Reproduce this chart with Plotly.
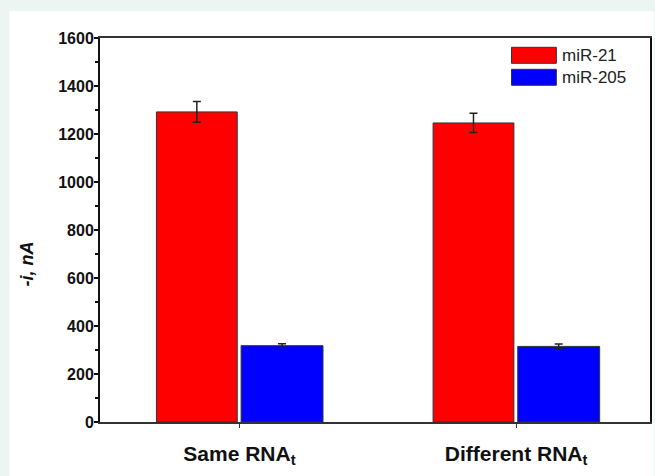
import plotly.graph_objects as go

categories = ["Same RNA<sub>t</sub>", "Different RNA<sub>t</sub>"]
series_names = ["miR-21", "miR-205"]
mir21_values = [1292, 1246]
mir21_errors = [43, 40]
mir205_values = [318, 315]
mir205_errors = [8, 10]
y_ticks = [0, 200, 400, 600, 800, 1000, 1200, 1400, 1600]

colors = ["#ff0000", "#0000ff"]
xpos = [0, 1]

fig = go.Figure()
fig.add_trace(go.Bar(
    x=xpos, y=mir21_values, name=series_names[0],
    marker=dict(color=colors[0], line=dict(color="#333333", width=1)),
    width=0.292, offset=-0.300,
    error_y=dict(type="data", array=mir21_errors, color="#222222", thickness=1.5, width=4),
    showlegend=False,
))
fig.add_trace(go.Bar(
    x=xpos, y=mir205_values, name=series_names[1],
    marker=dict(color=colors[1], line=dict(color="#333333", width=1)),
    width=0.296, offset=0.006,
    error_y=dict(type="data", array=mir205_errors, color="#222222", thickness=1.5, width=4),
    showlegend=False,
))

# plot area in pixels
L, R, T, B = 100, 652, 37.7, 421.7
W, H = 655, 476
pw, ph = R - L, B - T

def px_x(p):
    return (p - L) / pw

def px_y(p):
    return (B - p) / ph

FONT = "Liberation Sans, Arial, sans-serif"

shapes = [
    dict(type="rect", xref="paper", yref="paper", x0=px_x(9), x1=px_x(656),
         y0=px_y(477), y1=px_y(11), fillcolor="white", line=dict(width=0), layer="below"),
]
annotations = [
    dict(xref="paper", yref="paper", x=px_x(27), y=px_y(264), text="<b><i>-i, nA</i></b>",
         textangle=-90, showarrow=False, xanchor="center", yanchor="middle",
         font=dict(family=FONT, size=18, color="#111111")),
]
# custom legend
for i, (nm, c) in enumerate(zip(series_names, colors)):
    y0 = 47 + i * 22
    shapes.append(dict(type="rect", xref="paper", yref="paper",
                       x0=px_x(513), x1=px_x(558), y0=px_y(y0 + 16), y1=px_y(y0),
                       fillcolor=c, line=dict(color="#333333", width=1)))
    annotations.append(dict(xref="paper", yref="paper", x=px_x(562), y=px_y(y0 + 8),
                            text=nm, showarrow=False, xanchor="left", yanchor="middle",
                            font=dict(family=FONT, size=17, color="#222222")))

fig.update_layout(
    width=W, height=H,
    margin=dict(l=L, r=W - R, t=T, b=H - B, pad=0),
    paper_bgcolor="#edf5f2",
    plot_bgcolor="white",
    barmode="overlay",
    shapes=shapes,
    annotations=annotations,
    font=dict(family=FONT, color="#111111"),
    xaxis=dict(
        tickmode="array", tickvals=xpos, ticktext=[f"<b>{c}</b>" for c in categories],
        range=[-0.504, 1.484], showgrid=False, zeroline=False,
        showline=True, linecolor="#333333", linewidth=1.5, mirror=True,
        ticks="outside", ticklen=4, tickwidth=1, tickcolor="#333333",
        tickfont=dict(size=21, color="#111111"), ticklabelstandoff=8,
    ),
    yaxis=dict(
        range=[0, 1600], tickmode="array", tickvals=y_ticks,
        ticktext=[f"<b>{v}</b>" for v in y_ticks],
        showgrid=False, zeroline=False,
        showline=True, linecolor="#111111", linewidth=2, mirror=True,
        ticks="outside", ticklen=4, tickwidth=1.5, tickcolor="#111111",
        minor=dict(dtick=100, ticks="outside", ticklen=3, tickcolor="#111111"),
        tickfont=dict(size=16, color="#111111"), ticklabelstandoff=-3,
    ),
)

fig.write_html(
    "out.html",
    config={"displayModeBar": False},
    post_script="document.body.style.margin='0';document.body.style.background='#edf5f2';",
)
